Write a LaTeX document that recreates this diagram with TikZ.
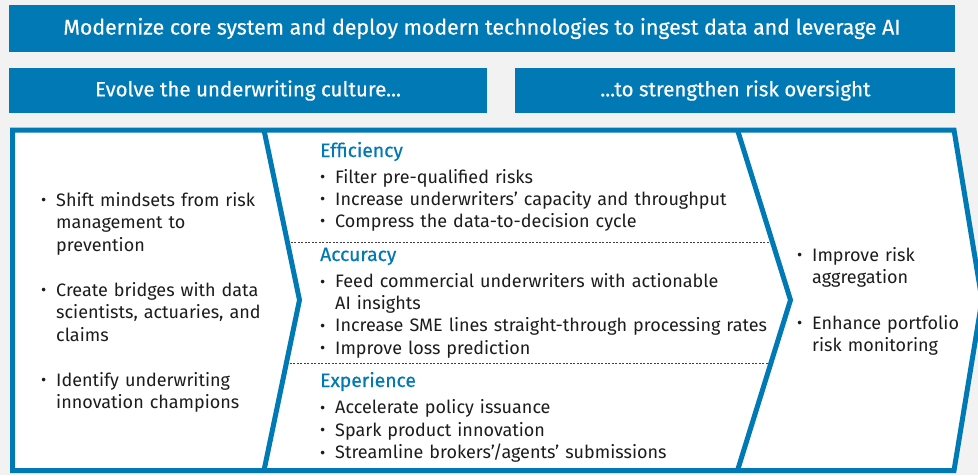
\documentclass[tikz,border=0pt]{standalone}
\usepackage{fontspec}
\setmainfont{Fira Sans}
\newfontfamily\medfont[FakeBold=0.4]{Fira Sans}
\usetikzlibrary{positioning,calc}

\definecolor{cgblue}{HTML}{0079B4}
\definecolor{cgback}{HTML}{F2F2F2}
\definecolor{cgtext}{HTML}{1C1C1C}

\tikzstyle{bar} = [fill=cgblue, text=white, inner sep=0pt, font=\medfont\fontsize{20.5}{22}\selectfont]
\tikzstyle{frame} = [draw=cgblue, line width=5pt, line join=miter]
\tikzstyle{note} = [anchor=base west, inner sep=0pt, align=left, text=cgtext,
                    font=\fontsize{18}{22.5}\selectfont]
\tikzstyle{sep} = [draw=black!75, line width=0.6pt, dash pattern=on 2pt off 1.5pt]

\newcommand{\bul}[1]{\hangindent=15pt\hangafter=1\noindent\makebox[15pt][l]{\raisebox{0.3pt}{\fontsize{16}{16}\selectfont\textbullet}}#1\par}
\newcommand{\hd}[1]{\noindent{\color{cgblue}\medfont\fontsize{19.3}{20}\selectfont #1}\par\vspace{4pt}}

\begin{document}
\begin{tikzpicture}[x=1pt, y=-1pt]
\fill[cgback] (0,0) rectangle (978,475);
\clip (0,0) rectangle (978,475);

% banners
\node[bar, minimum width=946pt, minimum height=47pt, font=\medfont\fontsize{21.3}{22}\selectfont] (core) at (482,28.5)
    {Modernize core system and deploy modern technologies to ingest data and leverage AI};
\node[bar, minimum width=478pt, minimum height=45pt] (culture) at (248,90.5)
    {Evolve the underwriting culture...};
\node[bar, minimum width=440pt, minimum height=45pt, right=28pt of culture] (oversight)
    {...to strengthen risk oversight};

% chevron frame
\coordinate (ftl) at (12.5,130);
\coordinate (ftr) at (954,130);
\coordinate (ftip) at (982,300);
\coordinate (fbr) at (954,470.5);
\coordinate (fbl) at (12.5,470.5);
\coordinate (atop) at (264,130);
\coordinate (atip) at (299.5,300);
\coordinate (abot) at (264,470.5);
\coordinate (btop) at (737.5,130);
\coordinate (btip) at (790.5,300);
\coordinate (bbot) at (737.5,470.5);

\fill[white] (ftl) -- (ftr) -- (ftip) -- (fbr) -- (fbl) -- cycle;
\draw[sep] ($(atop)!0.659!(atip)$) -- ($(btop)!0.659!(btip)$);
\draw[sep] ($(atip)!0.371!(abot)$) -- ($(btip)!0.371!(bbot)$);
\draw[frame] (ftl) -- (ftr) -- (ftip) -- (fbr) -- (fbl) -- cycle;
\draw[frame] (atop) -- (atip) -- (abot);
\draw[frame] (btop) -- (btip) -- (bbot);

% left column
\node[note, text width=230pt] (mindset) at (41,206) {%
    \bul{Shift mindsets from risk\newline management to\newline prevention}\vspace{22.5pt}
    \bul{Create bridges with data\newline scientists, actuaries, and\newline claims}\vspace{22.5pt}
    \bul{Identify underwriting\newline innovation champions}};

% middle column
\node[note, text width=460pt, font=\fontsize{18}{22}\selectfont] (efficiency) at (320,157) {%
    \hd{Efficiency}
    \bul{Filter pre-qualified risks}
    \bul{Increase underwriters’ capacity and throughput}
    \bul{Compress the data-to-decision cycle}};
\node[note, text width=460pt, font=\fontsize{18}{22.3}\selectfont] (accuracy) at (320,261) {%
    \hd{Accuracy}
    \bul{Feed commercial underwriters with actionable\newline AI insights}
    \bul{Increase SME lines straight-through processing rates}
    \bul{Improve loss prediction}};
\node[note, text width=460pt, font=\fontsize{18}{22.5}\selectfont] (experience) at (320,387) {%
    \hd{Experience}
    \bul{Accelerate policy issuance}
    \bul{Spark product innovation}
    \bul{Streamline brokers’/agents’ submissions}};

% right column
\node[note, text width=180pt] (aggregation) at (797,261) {%
    \bul{Improve risk\newline aggregation}\vspace{23pt}
    \bul{Enhance portfolio\newline risk monitoring}};
\end{tikzpicture}
\end{document}
